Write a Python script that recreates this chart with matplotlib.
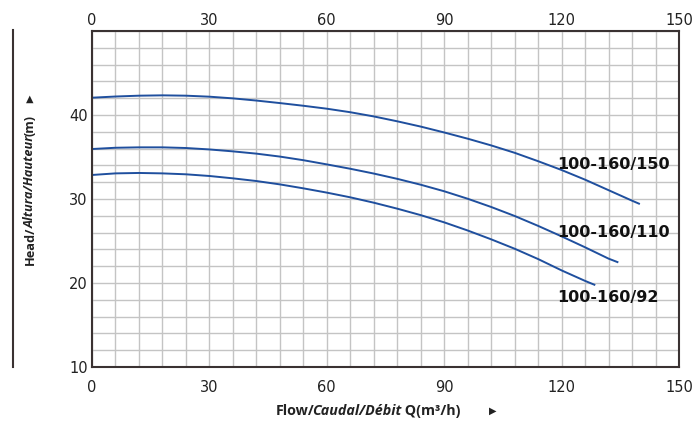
import numpy as np
import matplotlib
matplotlib.use("Agg")
import matplotlib.pyplot as plt
from matplotlib.lines import Line2D

# ---- data ----
q_150 = [0, 6, 12, 18, 24, 30, 36, 42, 48, 54, 60, 66, 72, 78, 84, 90, 96, 102, 108, 114, 120, 126, 132, 138, 140]
h_150 = [42.06, 42.2, 42.3, 42.34, 42.3, 42.18, 41.98, 41.72, 41.42, 41.1, 40.75, 40.33, 39.83, 39.25, 38.62, 37.92,
         37.18, 36.38, 35.5, 34.5, 33.45, 32.3, 31.05, 29.8, 29.4]
q_110 = [0, 6, 12, 18, 24, 30, 36, 42, 48, 54, 60, 66, 72, 78, 84, 90, 96, 102, 108, 114, 120, 126, 132, 134.5]
h_110 = [35.95, 36.1, 36.15, 36.15, 36.07, 35.9, 35.67, 35.4, 35.05, 34.62, 34.12, 33.6, 33.03, 32.4, 31.7, 30.92,
         30.03, 29.05, 27.98, 26.8, 25.55, 24.25, 22.9, 22.45]
q_92 = [0, 6, 12, 18, 24, 30, 36, 42, 48, 54, 60, 66, 72, 78, 84, 90, 96, 102, 108, 114, 120, 126, 128.6]
h_92 = [32.86, 33.05, 33.1, 33.05, 32.94, 32.74, 32.46, 32.14, 31.74, 31.27, 30.76, 30.2, 29.56, 28.85, 28.08, 27.22,
        26.25, 25.2, 24.08, 22.85, 21.5, 20.25, 19.75]

curve_names = ["100-160/150", "100-160/110", "100-160/92"]
label_pos = [(119, 34.1), (119, 26.0), (119, 18.3)]   # (Q, H) of label left/center
x_ticks = [0, 30, 60, 90, 120, 150]
y_ticks = [10, 20, 30, 40]

W, H = 697, 423
fig = plt.figure(figsize=(W / 100, H / 100), dpi=100)
ax = fig.add_axes([92 / W, 1 - 367 / H, (679 - 92) / W, (367 - 31) / H])

ax.set_xlim(0, 150)
ax.set_ylim(10, 50)
ax.set_xticks(x_ticks)
ax.set_xticks(np.arange(0, 151, 6), minor=True)
ax.set_yticks(y_ticks)
ax.set_yticks(np.arange(10, 51, 2), minor=True)
ax.grid(True, which="both", color="#c4c4c4", linewidth=1.0)
ax.set_axisbelow(True)
ax.tick_params(which="both", length=0)
ax.tick_params(axis="x", labelsize=10.5, labelcolor="#222222", pad=9.5)
ax.tick_params(axis="y", labelsize=10.5, labelcolor="#222222", pad=3)
for s in ax.spines.values():
    s.set_color("#3a3232")
    s.set_linewidth(1.5)

sec = ax.secondary_xaxis("top")
sec.set_xticks(x_ticks)
sec.tick_params(length=0, labelsize=10.5, labelcolor="#222222", pad=2.5)
sec.spines["top"].set_visible(False)

blue = "#1f4f9e"
for q, h in [(q_150, h_150), (q_110, h_110), (q_92, h_92)]:
    ax.plot(q, h, color=blue, linewidth=1.4, solid_capstyle="butt", solid_joinstyle="round")

for name, (qx, hy) in zip(curve_names, label_pos):
    ax.text(qx, hy, name, fontsize=11.5, fontweight="bold", color="#111111", ha="left", va="center")

# ---- mixed-style axis labels ----
renderer = fig.canvas.get_renderer()


def mixed_text(pieces, cx, cy, size, rotation=0):
    font = dict(family="Open Sans", fontsize=size, fontweight="bold", color="#222222")
    widths = []
    for s, style, adj in pieces:
        t = fig.text(0, 0, s, fontstyle=style, **font)
        widths.append(t.get_window_extent(renderer).width + adj)
        t.remove()
    total = sum(widths)
    pos = -total / 2
    for (s, style, adj), w in zip(pieces, widths):
        if rotation == 0:
            px, py = cx + pos, cy
        else:
            px, py = cx, cy - pos
        fig.text(px / W, 1 - py / H, s, fontstyle=style, rotation=rotation,
                 rotation_mode="anchor", ha="left", va="center", **font)
        pos += w


mixed_text([("Flow/", "normal", -2.5), ("Caudal/Débit", "italic", -0.8), (" Q(m³/h)", "normal", 0)],
           368, 411, 10.3)
fig.text(493 / W, 1 - 411 / H, "▶", fontsize=7, color="#222222", ha="center", va="center")
mixed_text([("Head/", "normal", -2.0), ("Altura/Hauteur", "italic", -0.3), ("(m)", "normal", 0)],
           30, 190, 9.2, rotation=90)
fig.text(30 / W, 1 - 99 / H, "▲", fontsize=7, color="#222222", ha="center", va="center")

fig.add_artist(Line2D([13 / W, 13 / W], [1 - 30 / H, 1 - 367 / H], color="#3a3232", linewidth=1.5))

fig.savefig("out.png", dpi=100)
